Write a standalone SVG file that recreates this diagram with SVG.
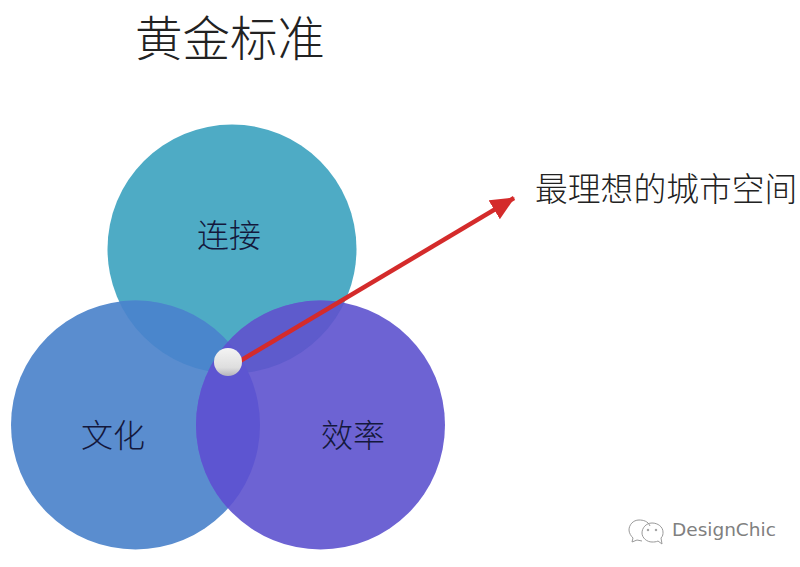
<svg xmlns="http://www.w3.org/2000/svg" width="800" height="567" viewBox="0 0 800 567">
<defs>
<clipPath id="cT"><circle cx="232" cy="249" r="124.500"/></clipPath>
<clipPath id="cL"><circle cx="135.500" cy="425" r="124.500"/></clipPath>
<linearGradient id="ball" x1="0" y1="0" x2="0" y2="1"><stop offset="0" stop-color="#f4f4f4"/><stop offset="0.7" stop-color="#dedede"/><stop offset="1" stop-color="#b4b4bc"/></linearGradient>
<marker id="ah" markerUnits="userSpaceOnUse" markerWidth="26" markerHeight="24" refX="23" refY="11" orient="auto"><path d="M0 0L24 11L0 22Z" fill="#d42b2b"/></marker>
</defs>
<style>
text{font-family:"Noto Sans CJK SC","Noto Sans",sans-serif;font-weight:300;}
.l{font-size:32px;fill:#14183c;text-anchor:middle;}
</style>
<rect width="800" height="567" fill="#ffffff"/>
<g id="node-title"><text x="230" y="56" font-size="47.500" text-anchor="middle" fill="#222222">黄金标准</text></g>
<g id="node-connect"><circle cx="232" cy="249" r="124.500" fill="#4eabc5"/></g>
<g id="node-culture"><circle cx="135.500" cy="425" r="124.500" fill="#5a8dcf"/></g>
<g id="node-efficiency"><circle cx="320.500" cy="425" r="124.500" fill="#6d63d3"/></g>
<g id="overlaps">
<g clip-path="url(#cT)"><circle cx="135.500" cy="425" r="124.500" fill="#4a86cc"/><circle cx="320.500" cy="425" r="124.500" fill="#5e5bcc"/></g>
<g clip-path="url(#cL)"><circle cx="320.500" cy="425" r="124.500" fill="#5d55d1"/></g>
</g>
<g id="labels">
<text class="l" x="229" y="247">连接</text>
<text class="l" x="113" y="447">文化</text>
<text class="l" x="353" y="447">效率</text>
<text x="535" y="201" font-size="32.800" fill="#222222">最理想的城市空间</text>
</g>
<g id="connectors"><line x1="240" y1="361" x2="514" y2="198" stroke="#d42b2b" stroke-width="4.500" marker-end="url(#ah)"/></g>
<g id="node-point"><circle cx="228" cy="362" r="14" fill="url(#ball)"/></g>
<g id="watermark" fill="none" stroke="#9a9a9a" stroke-width="1">
<path d="M650 526C648 521 643 520 639 520C633 520 629 525 629 530C629 533 631 536 633 538L632 542L637 540L642 541"/>
<path d="M652 523C646 523 642 528 642 533C642 538 647 542 652 542C654 542 656 542 658 541L662 544L661 538C663 536 663 534 663 532C663 527 658 523 652 523Z"/>
<circle cx="648" cy="530" r="0.800" fill="#9a9a9a"/><circle cx="656" cy="530" r="0.800" fill="#9a9a9a"/>
<text x="672" y="536" font-size="18.500" fill="#808080" stroke="none" style="font-family:'DejaVu Sans',sans-serif;font-weight:400">DesignChic</text>
</g>
</svg>
